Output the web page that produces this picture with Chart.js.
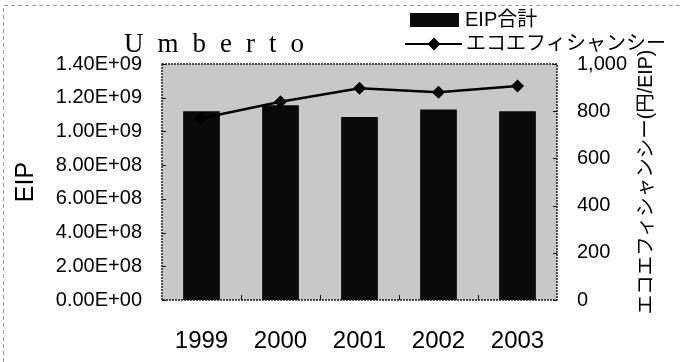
<!DOCTYPE html>
<html>
<head>
<meta charset="utf-8">
<script src="https://cdn.jsdelivr.net/npm/chart.js@4.4.1/dist/chart.umd.min.js"></script>
<style>
  html, body { margin: 0; padding: 0; background: #fff; }
  #wrap { width: 683px; height: 362px; }
</style>
</head>
<body>
<div id="wrap"><canvas id="c" width="683" height="362"></canvas></div>
<script>
// ---- data ----
const years = ['1999', '2000', '2001', '2002', '2003'];
const eipTotal = [1.12e9, 1.155e9, 1.085e9, 1.13e9, 1.12e9];
const ecoEfficiency = [770, 840, 897, 880, 907];
const seriesNames = ['EIP合計', 'エコエフィシャンシー'];
const chartTitle = 'Umberto';
const leftAxisTitle = 'EIP';
const rightAxisTitle = 'エコエフィシャンシー(円/EIP)';

const SANS = '"Liberation Sans", Arial, "Noto Sans CJK JP", sans-serif';
const CJK = '"Liberation Sans", "Noto Sans CJK JP", sans-serif';

// 1.40E+09 style labels
function sci(v) {
  if (v === 0) return '0.00E+00';
  const [m, e] = Number(v).toExponential(2).split('e');
  const n = parseInt(e, 10);
  return m.toUpperCase() + 'E' + (n < 0 ? '-' : '+') + String(Math.abs(n)).padStart(2, '0');
}

const decorations = {
  id: 'decorations',
  beforeDraw(chart) {
    const { ctx, chartArea: a } = chart;
    ctx.save();
    ctx.fillStyle = '#ffffff';
    ctx.fillRect(0, 0, chart.width, chart.height);
    ctx.fillStyle = '#c8c8c8';
    ctx.fillRect(a.left, a.top, a.right - a.left, a.bottom - a.top);
    ctx.restore();
  },
  afterDatasetsDraw(chart) {
    const { ctx, chartArea: a, scales } = chart;
    ctx.save();
    // inward tick marks
    ctx.strokeStyle = '#111';
    ctx.lineWidth = 1;
    scales.y.ticks.forEach(t => {
      const py = Math.round(scales.y.getPixelForValue(t.value)) + 0.5;
      ctx.beginPath(); ctx.moveTo(a.left, py); ctx.lineTo(a.left + 4, py); ctx.stroke();
    });
    scales.y1.ticks.forEach(t => {
      const py = Math.round(scales.y1.getPixelForValue(t.value)) + 0.5;
      ctx.beginPath(); ctx.moveTo(a.right - 4, py); ctx.lineTo(a.right, py); ctx.stroke();
    });
    for (let i = 1; i < years.length; i++) {
      const px = Math.round((scales.x.getPixelForTick(i - 1) + scales.x.getPixelForTick(i)) / 2) + 0.5;
      ctx.beginPath(); ctx.moveTo(px, a.bottom); ctx.lineTo(px, a.bottom - 5); ctx.stroke();
    }
    // dotted plot-area frame
    ctx.strokeStyle = '#1a1a1a';
    ctx.lineWidth = 1.5;
    ctx.setLineDash([2, 1]);
    ctx.strokeRect(a.left, a.top, a.right - a.left, a.bottom - a.top);
    ctx.restore();
  },
  afterDraw(chart) {
    const { ctx, scales } = chart;
    ctx.save();
    // faint outer chart frame
    ctx.strokeStyle = '#9a9a9a';
    ctx.lineWidth = 1;
    ctx.setLineDash([4, 3]);
    ctx.beginPath();
    ctx.moveTo(3.5, chart.height); ctx.lineTo(3.5, 5.5); ctx.lineTo(chart.width, 5.5);
    ctx.stroke();
    ctx.setLineDash([]);

    // title
    ctx.fillStyle = '#000';
    ctx.font = '27px "Liberation Serif", "DejaVu Serif", serif';
    ctx.textAlign = 'left';
    ctx.textBaseline = 'alphabetic';
    if ('letterSpacing' in ctx) ctx.letterSpacing = '14px';
    ctx.fillText(chartTitle, 124, 52);
    if ('letterSpacing' in ctx) ctx.letterSpacing = '0px';

    // legend
    const ds = chart.data.datasets;
    ctx.fillStyle = ds[0].backgroundColor;
    ctx.fillRect(410, 13, 49, 14);
    ctx.strokeStyle = ds[1].borderColor;
    ctx.lineWidth = 2;
    ctx.beginPath(); ctx.moveTo(405, 44); ctx.lineTo(462, 44); ctx.stroke();
    ctx.fillStyle = ds[1].pointBackgroundColor;
    ctx.beginPath();
    ctx.moveTo(434, 37.5); ctx.lineTo(440.5, 44); ctx.lineTo(434, 50.5); ctx.lineTo(427.5, 44);
    ctx.closePath(); ctx.fill();
    ctx.fillStyle = '#000';
    ctx.font = '20px ' + CJK;
    ctx.textBaseline = 'middle';
    ctx.fillText(ds[0].label, 465, 20);
    ctx.fillText(ds[1].label, 466, 44);

    // right axis title, reading bottom to top
    const ys = scales.y1;
    ctx.translate(647, (ys.top + ys.bottom) / 2);
    ctx.rotate(-Math.PI / 2);
    ctx.textAlign = 'center';
    ctx.font = '19.5px ' + CJK;
    ctx.fillText(rightAxisTitle, 0, 0);
    ctx.restore();
  }
};

new Chart(document.getElementById('c'), {
  data: {
    labels: years,
    datasets: [
      {
        type: 'bar',
        label: seriesNames[0],
        data: eipTotal,
        yAxisID: 'y',
        backgroundColor: '#0a0a0a',
        borderWidth: 0,
        barPercentage: 0.465,
        categoryPercentage: 1,
        order: 2
      },
      {
        type: 'line',
        label: seriesNames[1],
        data: ecoEfficiency,
        yAxisID: 'y1',
        borderColor: '#000000',
        borderWidth: 2.5,
        pointStyle: 'rectRot',
        pointRadius: 6.5,
        pointBackgroundColor: '#000000',
        pointBorderColor: '#000000',
        pointBorderWidth: 0,
        tension: 0,
        order: 1
      }
    ]
  },
  options: {
    responsive: false,
    animation: false,
    devicePixelRatio: 1,
    layout: { padding: { top: 64, left: 0, right: 0, bottom: 0 } },
    plugins: {
      legend: { display: false },
      tooltip: { enabled: false },
      title: { display: false }
    },
    scales: {
      x: {
        grid: { display: false, drawTicks: false },
        border: { display: false },
        ticks: { padding: 27, color: '#000', maxRotation: 0, autoSkip: false, font: { family: SANS, size: 24 } },
        afterFit(s) { s.height = 62; }
      },
      y: {
        position: 'left',
        min: 0,
        max: 1.4e9,
        grid: { display: false, drawTicks: false },
        border: { display: false },
        ticks: { stepSize: 2e8, padding: 20, color: '#000', font: { family: SANS, size: 20 }, callback: v => sci(v) },
        title: { display: true, text: leftAxisTitle, color: '#000', font: { family: SANS, size: 25 }, padding: { top: 11, bottom: 0 } },
        afterFit(s) { s.width = 162; }
      },
      y1: {
        position: 'right',
        min: 0,
        max: 1000,
        grid: { display: false, drawTicks: false },
        border: { display: false },
        ticks: { stepSize: 200, padding: 20, color: '#000', font: { family: SANS, size: 20 } },
        afterFit(s) { s.width = 126; }
      }
    }
  },
  plugins: [decorations]
});
</script>
</body>
</html>
